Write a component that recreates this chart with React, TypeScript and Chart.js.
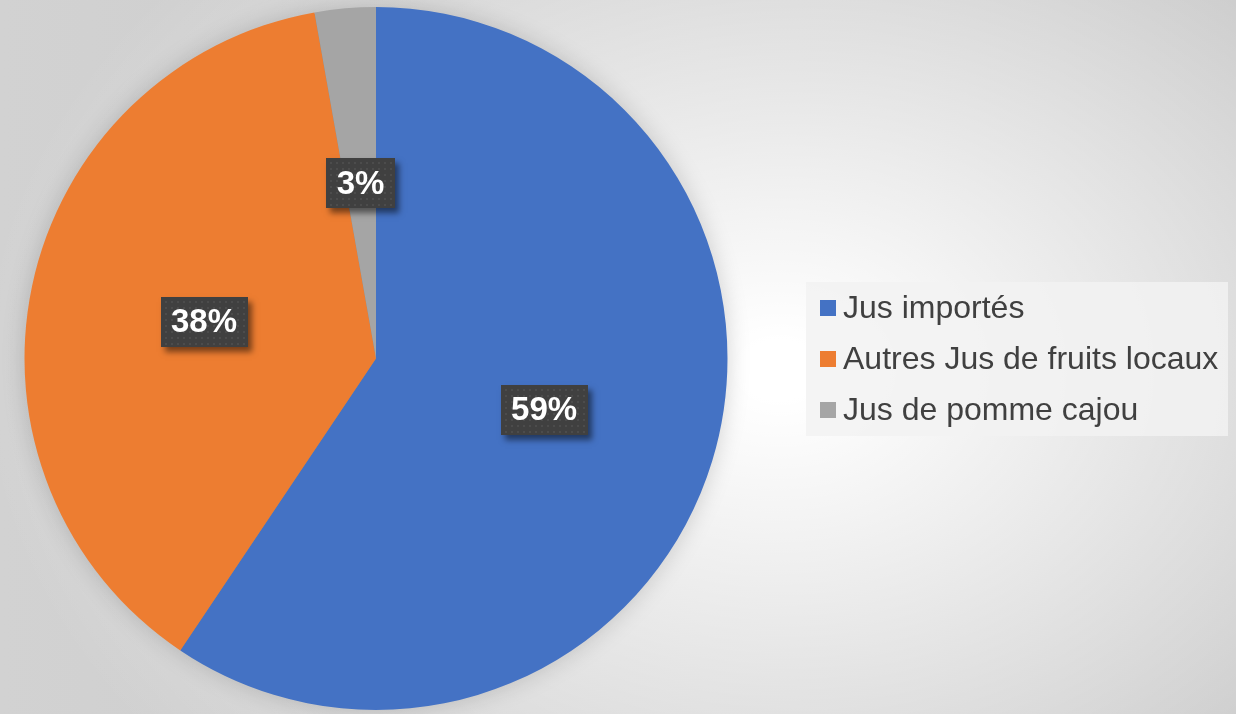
import React, { useEffect, useRef } from "react";
import { Chart, registerables } from "chart.js";

Chart.register(...registerables);

const categories = ["Jus importés", "Autres Jus de fruits locaux", "Jus de pomme cajou"];
const shares = [59.4, 37.8, 2.8];
const sliceColors = ["#4472C4", "#ED7D31", "#A5A5A5"];

const W = 1236;
const H = 714;

const pieShadowPlugin = {
  id: "pieShadow",
  beforeDatasetsDraw(chart: any) {
    const meta = chart.getDatasetMeta(0);
    const arc = meta.data[0];
    if (!arc) return;
    const { x, y, outerRadius } = arc.getProps(["x", "y", "outerRadius"], true);
    const ctx = chart.ctx;
    ctx.save();
    ctx.shadowColor = "rgba(0,0,0,0.18)";
    ctx.shadowBlur = 24;
    ctx.fillStyle = "#888";
    ctx.beginPath();
    ctx.arc(x, y, outerRadius - 1, 0, Math.PI * 2);
    ctx.fill();
    ctx.restore();
  },
};

const valueLabelPlugin = {
  id: "valueLabels",
  afterDatasetsDraw(chart: any) {
    const ctx = chart.ctx;
    const meta = chart.getDatasetMeta(0);
    const data = chart.data.datasets[0].data as number[];
    const total = data.reduce((a, b) => a + b, 0);
    ctx.save();
    ctx.font = "bold 33px 'Liberation Sans', Arial, sans-serif";
    meta.data.forEach((el: any, i: number) => {
      const p = el.tooltipPosition(true);
      const text = Math.round((data[i] / total) * 100) + "%";
      const tw = ctx.measureText(text).width;
      const bw = Math.round(tw + 21);
      const bh = 50;
      const bx = Math.round(p.x - bw / 2);
      const by = Math.round(p.y - bh / 2);
      ctx.save();
      ctx.shadowColor = "rgba(0,0,0,0.5)";
      ctx.shadowBlur = 6;
      ctx.shadowOffsetX = 4;
      ctx.shadowOffsetY = 5;
      ctx.fillStyle = "#404040";
      ctx.fillRect(bx, by, bw, bh);
      ctx.restore();
      ctx.fillStyle = "rgba(100,100,100,0.35)";
      for (let yy = by + 4; yy < by + bh - 3; yy += 6) {
        for (let xx = bx + 4; xx < bx + bw - 3; xx += 6) {
          ctx.fillRect(xx, yy, 2, 2);
        }
      }
      ctx.fillStyle = "#ffffff";
      ctx.textAlign = "center";
      ctx.textBaseline = "middle";
      ctx.fillText(text, p.x, p.y + 1);
    });
    ctx.restore();
  },
};

const legendPlugin = {
  id: "sideLegend",
  afterDraw(chart: any) {
    const ctx = chart.ctx;
    const labels = chart.data.labels as string[];
    const colors = chart.data.datasets[0].backgroundColor as string[];
    const boxX = 806;
    const boxY = 282;
    const boxW = 422;
    const boxH = 154;
    ctx.save();
    ctx.fillStyle = "rgba(242,242,242,0.85)";
    ctx.fillRect(boxX, boxY, boxW, boxH);
    ctx.font = "32px 'Liberation Sans', Arial, sans-serif";
    ctx.textBaseline = "middle";
    ctx.textAlign = "left";
    labels.forEach((lab, i) => {
      const cy = 308 + i * 51;
      ctx.fillStyle = colors[i];
      ctx.fillRect(820, cy - 8, 16, 16);
      ctx.fillStyle = "#404040";
      ctx.fillText(lab, 843, cy + 1);
    });
    ctx.restore();
  },
};

export default function App() {
  const canvasRef = useRef<HTMLCanvasElement | null>(null);

  useEffect(() => {
    document.body.style.margin = "0";
    const canvas = canvasRef.current;
    if (!canvas) return;
    const chart = new Chart(canvas, {
      type: "pie",
      data: {
        labels: categories,
        datasets: [
          {
            data: shares,
            backgroundColor: sliceColors,
            borderWidth: 0,
          },
        ],
      },
      options: {
        responsive: false,
        animation: false,
        devicePixelRatio: 1,
        layout: { padding: { left: 24, right: 508, top: 7, bottom: 4 } },
        plugins: {
          legend: { display: false },
          tooltip: { enabled: false },
          title: { display: false },
        },
      },
      plugins: [pieShadowPlugin, valueLabelPlugin, legendPlugin],
    });
    return () => chart.destroy();
  }, []);

  return (
    <div
      style={{
        width: W,
        height: H,
        position: "relative",
        overflow: "hidden",
        background:
          "radial-gradient(ellipse 800px 600px at 780px 370px, rgba(255,255,255,1) 5%, rgba(255,255,255,0) 100%), linear-gradient(90deg, #d2d2d2, #c4c4c4)",
      }}
    >
      <canvas ref={canvasRef} width={W} height={H} style={{ display: "block" }} />
    </div>
  );
}
